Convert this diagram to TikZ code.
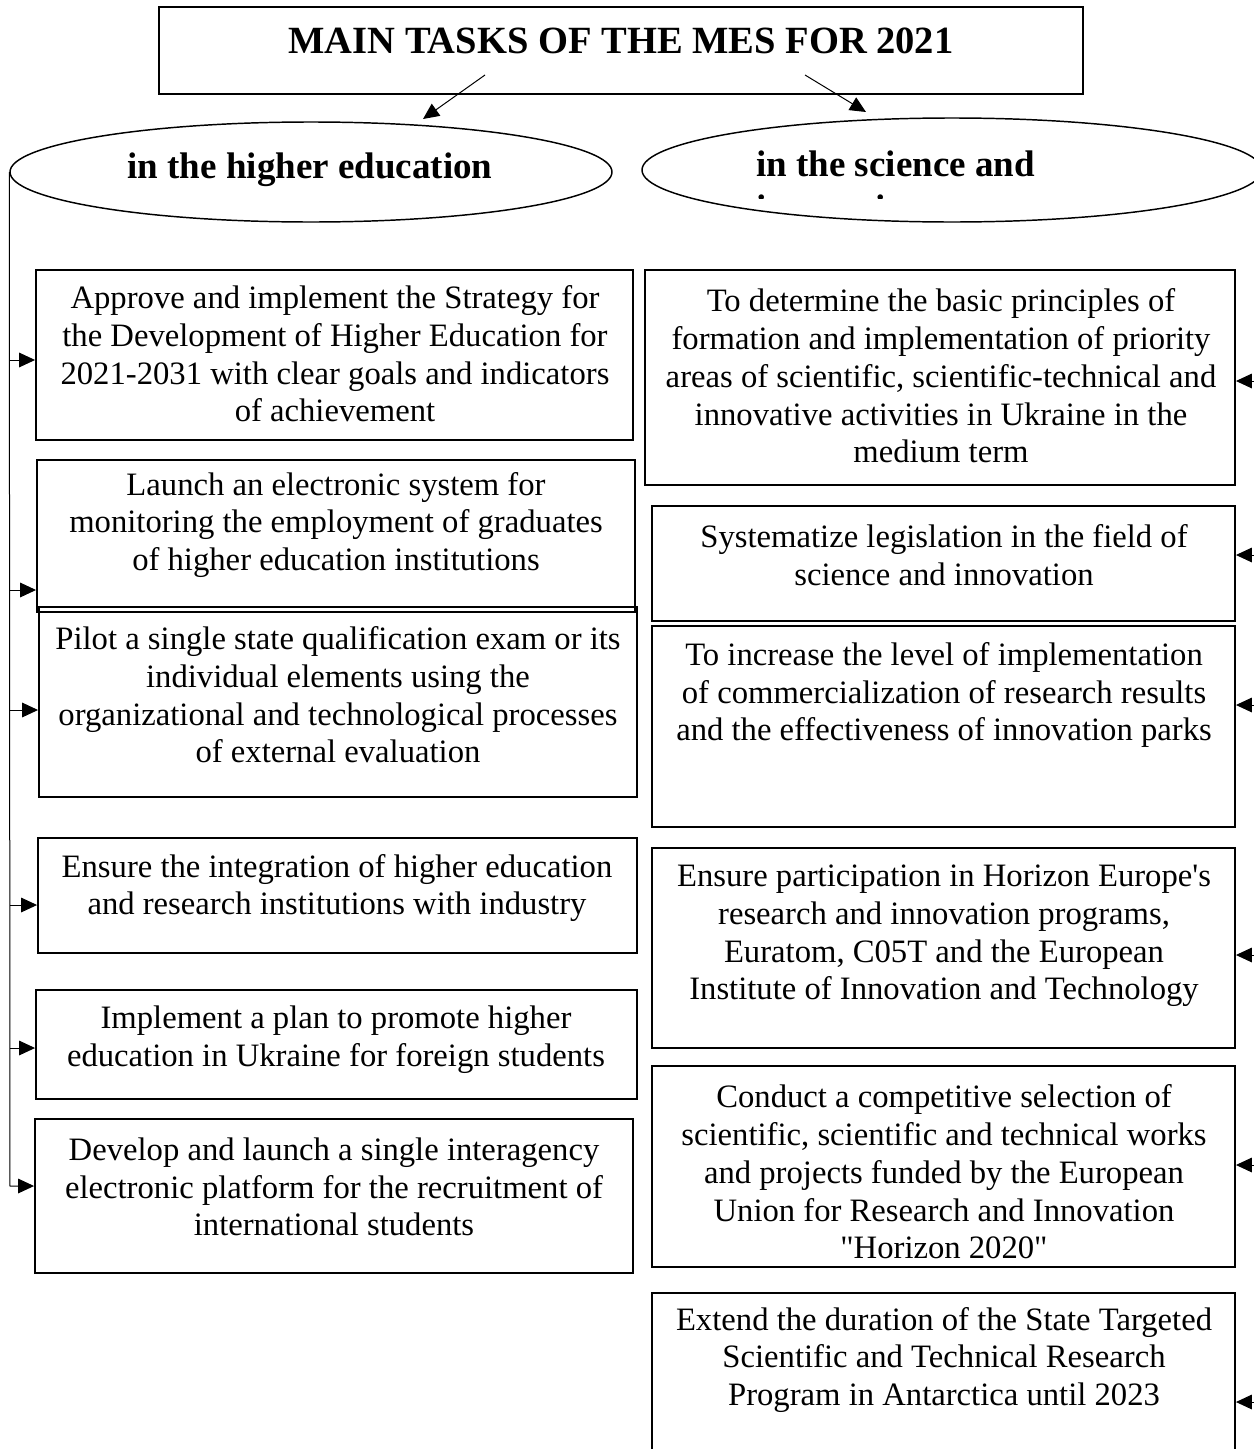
\documentclass[tikz,border=0pt]{standalone}
\usepackage{fontspec}
\setmainfont{Liberation Serif}[Ligatures=TeXOff]
\usetikzlibrary{arrows.meta,shapes.geometric,fit}
\begin{document}
\begin{tikzpicture}[x=0.75pt,y=-0.75pt,
  boxstyle/.style={draw, line width=1.4pt, inner sep=0pt},
  body/.style={align=center, inner sep=0pt, font=\fontsize{24.5pt}{28.3pt}\selectfont},
  headfont/.style={inner sep=0pt, font=\fontsize{27.75pt}{32pt}\selectfont\bfseries},
  titlefont/.style={inner sep=0pt, font=\fontsize{28.9pt}{33pt}\selectfont\bfseries},
  oval/.style={draw, ellipse, line width=1.1pt, inner sep=0pt},
  conn/.style={line width=0.75pt},
  arr/.style={line width=0.75pt, -{Triangle[length=12pt,width=11pt]}}]
\useasboundingbox (0,0) rectangle (1253,1449);

% title
\node[boxstyle, fit={(159,7) (1083,94)}] (T) {};
\node[titlefont, anchor=base] (Tt) at (621,53) {MAIN TASKS OF THE MES FOR 2021};

% ellipses
\node[oval, minimum width=451.5pt, minimum height=75pt] (HE) at (311,172) {};
\node[headfont, anchor=base] (HEt) at (310,178) {in the higher education};
\node[oval, minimum width=465pt, minimum height=78pt] (SI) at (952,170) {};
\node[headfont, anchor=base west] (SIt) at (756,176) {in the science and};
\begin{scope}
  \clip (700,150) rectangle (1000,198);
  \node[headfont, anchor=base west] (SIt2) at (756,220) {innovation};
\end{scope}

% title arrows
\coordinate (ta1) at (485,75);
\coordinate (tb1) at (423,119);
\coordinate (ta2) at (805,75);
\coordinate (tb2) at (866,112);
\draw[arr] (ta1) -- (tb1);
\draw[arr] (ta2) -- (tb2);

% left boxes
\node[boxstyle, fit={(36,270) (633,440)}] (L1) {};
\node[body] (L1t) at (335,354) {Approve and implement the Strategy for\\the Development of Higher Education for\\2021-2031 with clear goals and indicators\\of achievement};
\node[boxstyle, fit={(37,460) (635,612)}] (L2) {};
\node[body] (L2t) at (336,525) {Launch an electronic system for\\monitoring the employment of graduates\\of higher education institutions};
\node[boxstyle, fit={(39,607) (637,797)}] (L3) {};
\node[body] (L3t) at (338,695) {Pilot a single state qualification exam or its\\individual elements using the\\organizational and technological processes\\of external evaluation};
\node[boxstyle, fit={(38,838) (637,953)}] (L4) {};
\node[body] (L4t) at (337,888) {Ensure the integration of higher education\\and research institutions with industry};
\node[boxstyle, fit={(36,990) (637,1099)}] (L5) {};
\node[body] (L5t) at (336,1040) {Implement a plan to promote higher\\education in Ukraine for foreign students};
\node[boxstyle, fit={(35,1119) (633,1273)}] (L6) {};
\node[body] (L6t) at (334,1187) {Develop and launch a single interagency\\electronic platform for the recruitment of\\international students};

% right boxes
\node[boxstyle, fit={(645,270) (1235,485)}] (R1) {};
\node[body] (R1t) at (941,376) {To determine the basic principles of\\formation and implementation of priority\\areas of scientific, scientific-technical and\\innovative activities in Ukraine in the\\medium term};
\node[boxstyle, fit={(652,506) (1235,621)}] (R2) {};
\node[body] (R2t) at (944,555) {Systematize legislation in the field of\\science and innovation};
\node[boxstyle, fit={(652,626) (1235,827)}] (R3) {};
\node[body] (R3t) at (944,695) {To increase the level of implementation\\of commercialization of research results\\and the effectiveness of innovation parks};
\node[boxstyle, fit={(652,848) (1235,1048)}] (R4) {};
\node[body] (R4t) at (944,936) {Ensure participation in Horizon Europe's\\research and innovation programs,\\Euratom, C05T and the European\\Institute of Innovation and Technology};
\node[boxstyle, fit={(652,1066) (1235,1267)}] (R5) {};
\node[body] (R5t) at (944,1172) {Conduct a competitive selection of\\scientific, scientific and technical works\\and projects funded by the European\\Union for Research and Innovation\\"Horizon 2020"};
\node[boxstyle, fit={(652,1293) (1235,1480)}] (R6) {};
\node[body] (R6t) at (944,1360) {Extend the duration of the State Targeted\\Scientific and Technical Research\\Program in Antarctica until 2023};

% left trunk and arrows
\coordinate (t1) at (10,360);
\coordinate (t2) at (10,590);
\coordinate (t3) at (10,710);
\coordinate (t4) at (10,905);
\coordinate (t5) at (10,1048);
\coordinate (t6) at (10,1186);
\draw[arr] (HE.west) -- (t6) -- (t6 -| L6.west);
\foreach \k in {1,...,5} {\draw[arr] (t\k) -- (t\k -| L\k.west);}

% right arrows
\coordinate (r1) at (1265,381);
\coordinate (r2) at (1265,555);
\coordinate (r3) at (1265,705);
\coordinate (r4) at (1265,955);
\coordinate (r5) at (1265,1165);
\coordinate (r6) at (1265,1402);
\foreach \k in {1,...,6} {\draw[arr] (r\k) -- (r\k -| R\k.east);}
\end{tikzpicture}
\end{document}
